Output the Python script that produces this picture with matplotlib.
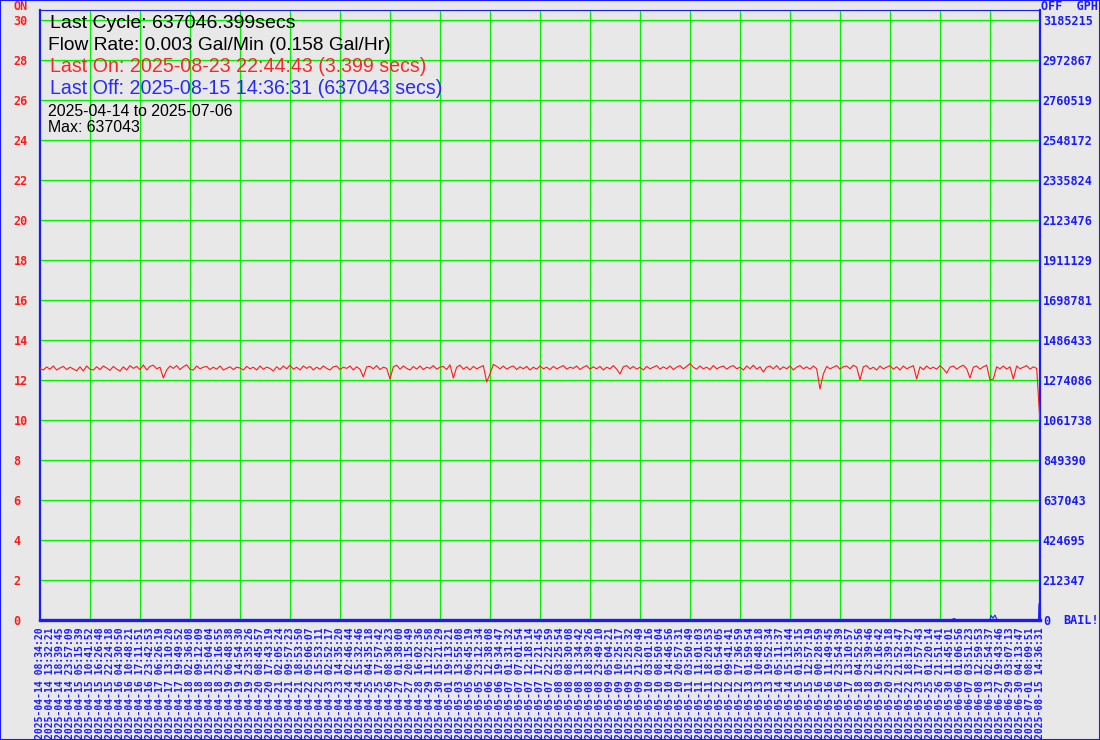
import numpy as np
import matplotlib.pyplot as plt

# bottom labels, one every 1/100 of the cycles
cycle_labels = [
    '2025-04-14 08:34:20', '2025-04-14 13:32:21', '2025-04-14 18:39:45', '2025-04-14 23:57:09',
    '2025-04-15 05:15:39', '2025-04-15 10:41:52', '2025-04-15 16:26:48', '2025-04-15 22:24:18',
    '2025-04-16 04:30:50', '2025-04-16 10:48:21', '2025-04-16 17:11:51', '2025-04-16 23:42:53',
    '2025-04-17 06:26:19', '2025-04-17 13:10:20', '2025-04-17 19:49:52', '2025-04-18 02:36:08',
    '2025-04-18 09:12:09', '2025-04-18 15:04:04', '2025-04-18 23:16:55', '2025-04-19 06:48:38',
    '2025-04-19 14:54:30', '2025-04-19 23:35:26', '2025-04-20 08:45:57', '2025-04-20 17:43:19',
    '2025-04-21 02:05:24', '2025-04-21 09:57:23', '2025-04-21 18:53:50', '2025-04-22 05:06:07',
    '2025-04-22 15:53:11', '2025-04-23 02:52:17', '2025-04-23 14:35:20', '2025-04-24 02:46:44',
    '2025-04-24 15:32:46', '2025-04-25 04:35:18', '2025-04-25 17:57:42', '2025-04-26 08:36:23',
    '2025-04-27 01:38:00', '2025-04-27 20:15:49', '2025-04-28 16:02:36', '2025-04-29 11:22:58',
    '2025-04-30 15:21:29', '2025-05-01 19:13:21', '2025-05-03 13:55:08', '2025-05-05 06:45:19',
    '2025-05-05 23:12:34', '2025-05-06 12:38:08', '2025-05-06 19:34:47', '2025-05-07 01:31:32',
    '2025-05-07 07:01:54', '2025-05-07 12:18:14', '2025-05-07 17:21:45', '2025-05-07 22:22:59',
    '2025-05-08 03:25:54', '2025-05-08 08:30:08', '2025-05-08 13:34:42', '2025-05-08 18:39:26',
    '2025-05-08 23:49:10', '2025-05-09 05:04:21', '2025-05-09 10:25:17', '2025-05-09 15:25:32',
    '2025-05-09 21:20:49', '2025-05-10 03:01:16', '2025-05-10 08:50:04', '2025-05-10 14:46:56',
    '2025-05-10 20:57:31', '2025-05-11 03:50:49', '2025-05-11 11:01:03', '2025-05-11 18:20:53',
    '2025-05-12 01:54:05', '2025-05-12 09:41:41', '2025-05-12 17:36:59', '2025-05-13 01:59:54',
    '2025-05-13 10:48:18', '2025-05-13 19:52:34', '2025-05-14 05:11:37', '2025-05-14 15:13:44',
    '2025-05-15 01:35:15', '2025-05-15 12:57:19', '2025-05-16 00:28:59', '2025-05-16 11:49:45',
    '2025-05-16 23:54:39', '2025-05-17 13:10:57', '2025-05-18 04:52:56', '2025-05-18 23:39:46',
    '2025-05-19 16:16:42', '2025-05-20 23:39:18', '2025-05-21 21:52:47', '2025-05-22 18:19:27',
    '2025-05-23 17:57:43', '2025-05-25 01:20:14', '2025-05-26 21:51:41', '2025-05-30 11:45:01',
    '2025-06-06 01:06:56', '2025-06-07 03:51:23', '2025-06-08 12:59:53', '2025-06-13 02:54:37',
    '2025-06-27 19:43:46', '2025-06-29 03:07:13', '2025-06-30 04:13:47', '2025-07-01 08:09:51',
    '2025-08-15 14:36:31',
]

# pump ON time per cycle (secs), 3 samples per label step
on_secs = [
    12.58, 12.50, 12.65, 12.54, 12.70, 12.50, 12.60, 12.68, 12.52, 12.64,
    12.55, 12.46, 12.66, 12.45, 12.70, 12.54, 12.50, 12.66, 12.52, 12.70,
    12.60, 12.48, 12.68, 12.54, 12.45, 12.66, 12.50, 12.72, 12.58, 12.68,
    12.52, 12.75, 12.50, 12.68, 12.74, 12.56, 12.64, 12.10, 12.50, 12.70,
    12.58, 12.72, 12.52, 12.66, 12.76, 12.54, 12.50, 12.70, 12.56, 12.64,
    12.68, 12.52, 12.64, 12.54, 12.70, 12.50, 12.58, 12.66, 12.52, 12.64,
    12.60, 12.50, 12.68, 12.56, 12.64, 12.50, 12.70, 12.54, 12.64, 12.58,
    12.45, 12.66, 12.52, 12.70, 12.56, 12.74, 12.54, 12.64, 12.50, 12.70,
    12.58, 12.68, 12.50, 12.64, 12.54, 12.70, 12.58, 12.50, 12.66, 12.70,
    12.52, 12.64, 12.58, 12.70, 12.50, 12.66, 12.54, 12.15, 12.66, 12.68,
    12.56, 12.72, 12.52, 12.64, 12.58, 12.05, 12.66, 12.74, 12.54, 12.70,
    12.58, 12.50, 12.68, 12.54, 12.70, 12.52, 12.64, 12.58, 12.72, 12.54,
    12.64, 12.68, 12.52, 12.76, 12.10, 12.64, 12.74, 12.54, 12.66, 12.50,
    12.68, 12.56, 12.64, 12.72, 11.90, 12.30, 12.78, 12.68, 12.56, 12.70,
    12.54, 12.64, 12.70, 12.52, 12.66, 12.56, 12.68, 12.50, 12.64, 12.54,
    12.70, 12.56, 12.64, 12.52, 12.68, 12.56, 12.64, 12.72, 12.54, 12.64,
    12.58, 12.70, 12.52, 12.64, 12.72, 12.54, 12.66, 12.56, 12.68, 12.50,
    12.64, 12.56, 12.72, 12.54, 12.30, 12.66, 12.72, 12.56, 12.68, 12.54,
    12.64, 12.50, 12.68, 12.56, 12.64, 12.72, 12.54, 12.66, 12.56, 12.70,
    12.52, 12.64, 12.72, 12.56, 12.68, 12.82, 12.64, 12.54, 12.70, 12.56,
    12.64, 12.52, 12.72, 12.56, 12.64, 12.70, 12.54, 12.66, 12.72, 12.56,
    12.64, 12.50, 12.70, 12.56, 12.74, 12.54, 12.66, 12.40, 12.64, 12.70,
    12.56, 12.72, 12.52, 12.66, 12.56, 12.70, 12.50, 12.64, 12.72, 12.56,
    12.66, 12.54, 12.70, 12.56, 11.55, 12.30, 12.68, 12.56, 12.64, 12.72,
    12.54, 12.66, 12.70, 12.56, 12.74, 12.64, 12.00, 12.66, 12.72, 12.54,
    12.64, 12.50, 12.70, 12.56, 12.64, 12.72, 12.54, 12.66, 12.50, 12.70,
    12.56, 12.64, 12.72, 12.05, 12.66, 12.52, 12.70, 12.56, 12.64, 12.54,
    12.72, 12.56, 12.35, 12.64, 12.70, 12.54, 12.66, 12.74, 12.56, 12.10,
    12.64, 12.70, 12.54, 12.66, 12.74, 12.00, 12.05, 12.66, 12.56, 12.70,
    12.54, 12.66, 12.05, 12.70, 12.56, 12.64, 12.72, 12.54, 12.66, 12.58,
    9.90,
]

# pump OFF time (secs) at a few points, in label-step units
off_pos = [0, 91.2, 91.4, 91.6, 95.0, 95.1, 95.3, 95.5, 95.7, 99.85, 99.9]
off_secs = [2000, 2000, 8000, 2000, 2000, 24000, 10000, 26000, 2000, 2000, 85000]

on_ticks = list(range(0, 31, 2))
off_ticks = [0, 212347, 424695, 637043, 849390, 1061738, 1274086, 1486433, 1698781,
             1911129, 2123476, 2335824, 2548172, 2760519, 2972867, 3185215]
grid_x = list(range(5, 100, 5))

info_lines = [
    ('Last Cycle: 637046.399secs', 'black', 14, 50, 23),
    ('Flow Rate: 0.003 Gal/Min (0.158 Gal/Hr)', 'black', 13.8, 48, 45),
    ('Last On: 2025-08-23 22:44:43 (3.399 secs)', '#f42a2a', 14.1, 50, 67),
    ('Last Off: 2025-08-15 14:36:31 (637043 secs)', '#2a2af4', 14.1, 50, 89),
    ('2025-04-14 to 2025-07-06', 'black', 11.4, 48, 111),
    ('Max: 637043', 'black', 11.4, 48, 128),
]

W, H = 1100, 740
bg = '#e8e8e8'
red = '#ff1a1a'
blue = '#1a1aff'
green = '#00f000'
mono = 'DejaVu Sans Mono'

fig = plt.figure(figsize=(W / 100, H / 100), dpi=100, facecolor=bg)
ax = fig.add_axes([40 / W, 120 / H, 1000 / W, 610 / H])
ax.set_facecolor(bg)
ax.set_xlim(0, 100)
ax.set_ylim(0, 30.5)

# grid
for xv in grid_x:
    ax.axvline(xv, color=green, lw=0.9, zorder=1)
ax.set_yticks(on_ticks)
ax.grid(which='major', axis='y', color=green, lw=0.9)
ax.set_axisbelow(True)

x_on = np.arange(len(on_secs)) / 3.0
ax.plot(x_on, on_secs, color=red, lw=0.8, zorder=3)

ax.set_xticks(range(len(cycle_labels)))
ax.set_xticklabels(cycle_labels, rotation=90, family=mono, fontsize=7,
                   fontweight='bold', color=blue)
ax.tick_params(axis='x', which='both', length=0, pad=5)

ax.set_yticklabels([str(v) for v in on_ticks], family=mono, fontsize=8.5,
                   fontweight='bold', color=red)
for t in ax.get_yticklabels():
    t.set_ha('left')
ax.tick_params(axis='y', length=0, pad=19)

for side, w in [('left', 1.6), ('bottom', 2.4), ('right', 1.6), ('top', 0.8)]:
    ax.spines[side].set_color(blue)
    ax.spines[side].set_linewidth(w)

# right axis for OFF time
ax2 = ax.twinx()
ax2.set_ylim(0, off_ticks[-1] * 30.5 / 30)
ax2.plot(off_pos, off_secs, color=blue, lw=0.8)
ax2.set_yticks(off_ticks)
ax2.set_yticklabels([str(v) for v in off_ticks], family=mono, fontsize=8.5,
                    fontweight='bold', color=blue)
ax2.tick_params(axis='y', length=0, pad=2)
for side in ax2.spines:
    ax2.spines[side].set_visible(False)

fig.text(14 / W, 1 - 7 / H, 'ON', color=red, family=mono, fontsize=8.5,
         fontweight='bold', va='center')
fig.text(1041 / W, 1 - 7 / H, 'OFF  GPH', color=blue, family=mono, fontsize=8.5,
         fontweight='bold', va='center')
fig.text(1063 / W, 1 - 620 / H, 'BAIL!', color=blue, family=mono, fontsize=8.5,
         fontweight='bold', va='center')

for txt, col, fs, x, y in info_lines:
    fig.text(x / W, 1 - y / H, txt, color=col, fontsize=fs,
             family='Liberation Sans', va='center')

# outer frame
fig.add_artist(plt.Rectangle((0, 0), 1, 1, transform=fig.transFigure,
                             fill=False, edgecolor=blue, lw=1.5))

fig.savefig('out.png', dpi=100, facecolor=bg)
